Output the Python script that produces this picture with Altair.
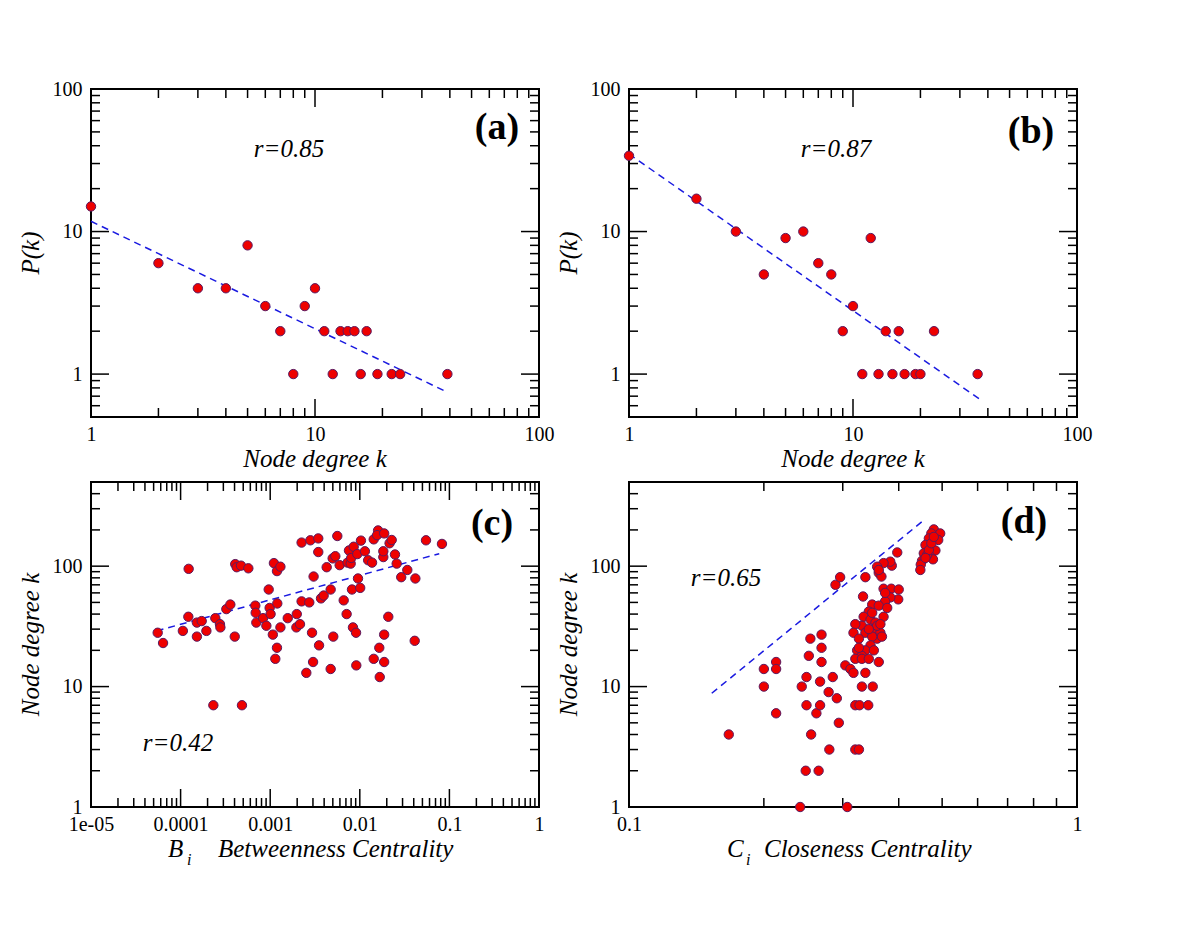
import altair as alt
import pandas as pd

# ---------------- data ----------------
# Panel (a)
a_k = [1, 2, 3, 4, 5, 6, 7, 8, 9, 10, 11, 12, 13, 14, 15, 16, 17, 19, 22, 24, 39]
a_p = [15, 6, 4, 4, 8, 3, 2, 1, 3, 4, 2, 1, 2, 2, 2, 1, 2, 1, 1, 1, 1]
a_fit_k = [1, 38.7]
a_fit_p = [11.8, 0.75]

# Panel (b)
b_k = [1, 2, 3, 4, 5, 6, 7, 8, 9, 10, 11, 12, 13, 14, 15, 16, 17, 19, 20, 23, 36]
b_p = [34, 17, 10, 5, 9, 10, 6, 5, 2, 3, 1, 9, 1, 2, 1, 2, 1, 1, 1, 2, 1]
b_fit_k = [1, 36.6]
b_fit_p = [35, 0.67]

# Panel (c)  betweenness centrality vs degree
c_b = [5.55e-5, 6.37e-5, 1.06e-4, 1.23e-4, 1.22e-4, 1.52e-4, 1.52e-4, 1.72e-4, 1.94e-4, 2.32e-4,
       2.44e-4, 2.75e-4, 2.78e-4, 3.24e-4, 3.59e-4, 4.02e-4, 4.07e-4, 4.23e-4, 4.72e-4, 4.84e-4,
       5.70e-4, 6.82e-4, 6.89e-4, 7.00e-4, 8.32e-4, 9.06e-4, 9.62e-4, 9.86e-4, 1.01e-3, 1.07e-3,
       1.10e-3, 1.19e-3, 1.30e-3, 1.20e-3, 1.19e-3, 1.14e-3, 1.30e-3, 1.57e-3, 1.98e-3, 1.96e-3,
       2.15e-3, 2.24e-3, 2.24e-3, 2.53e-3, 2.73e-3, 2.81e-3, 2.93e-3, 3.01e-3, 3.05e-3, 3.44e-3,
       3.44e-3, 3.51e-3, 3.69e-3, 3.95e-3, 4.27e-3, 4.73e-3, 4.73e-3, 4.98e-3, 5.06e-3, 5.33e-3,
       5.61e-3, 5.96e-3, 6.61e-3, 7.13e-3, 7.31e-3, 7.57e-3, 7.91e-3, 8.02e-3, 8.18e-3, 8.39e-3,
       8.55e-3, 9.08e-3, 9.14e-3, 9.38e-3, 9.55e-3, 1.01e-2, 1.03e-2, 1.14e-2, 1.24e-2, 1.37e-2,
       1.43e-2, 1.43e-2, 1.60e-2, 1.56e-2, 1.65e-2, 1.67e-2, 1.83e-2, 1.83e-2, 1.87e-2, 1.87e-2,
       1.87e-2, 2.08e-2, 2.15e-2, 2.27e-2, 2.47e-2, 2.58e-2, 2.90e-2, 3.39e-2, 4.10e-2, 4.17e-2,
       5.48e-2, 8.26e-2]
c_k = [28, 23, 29, 95, 38, 26, 34, 35, 29, 7,
       37, 33, 31, 44, 48, 26, 104, 98, 101, 7,
       96, 47, 41, 34, 37, 32, 64, 45, 40, 27,
       106, 91, 99, 49, 21, 17, 31, 37, 40, 31,
       33, 157, 51, 13, 50, 164, 28, 16, 82, 170,
       131, 22, 54, 57, 98, 64, 14, 116, 26, 121,
       178, 102, 52, 40, 107, 135, 105, 117, 64, 31,
       145, 28, 15, 126, 79, 66, 163, 133, 112, 107,
       17, 167, 198, 181, 21, 12, 119, 133, 187, 27,
       16, 38, 155, 165, 125, 105, 81, 93, 24, 79,
       164, 153]
c_fit_b = [5.4e-5, 0.077]
c_fit_k = [29, 127]

# Panel (d)  closeness centrality vs degree
d_c = [0.479, 0.473, 0.495, 0.467, 0.490, 0.459, 0.483, 0.455, 0.471, 0.477,
       0.451, 0.448, 0.447, 0.463, 0.467, 0.473, 0.459, 0.479,
       0.397, 0.386, 0.383, 0.370, 0.358, 0.361, 0.366, 0.337, 0.289, 0.296,
       0.370, 0.385, 0.400, 0.399, 0.383, 0.373, 0.333, 0.349, 0.361, 0.343,
       0.377, 0.370, 0.334, 0.346, 0.355, 0.352, 0.364, 0.358, 0.367, 0.331,
       0.320, 0.317, 0.337, 0.349, 0.326, 0.346, 0.337, 0.323, 0.331, 0.352,
       0.320, 0.331, 0.343, 0.361, 0.304, 0.312, 0.317, 0.337, 0.331, 0.350,
       0.320, 0.327, 0.342, 0.320, 0.326,
       0.349, 0.358, 0.343, 0.326, 0.364, 0.373, 0.361,
       0.167, 0.200, 0.200, 0.213, 0.213, 0.213, 0.243, 0.249, 0.249, 0.252,
       0.254, 0.255, 0.262, 0.267, 0.269, 0.269, 0.269, 0.267, 0.279, 0.280,
       0.285, 0.291, 0.294, 0.248, 0.265, 0.241, 0.307]
d_k = [202, 187, 187, 170, 165, 150, 135, 128, 120, 114,
       111, 103, 93, 124, 136, 155, 117, 175,
       130, 101, 109, 106, 99, 88, 82, 81, 70, 81,
       65, 65, 64, 53, 55, 51, 56, 48, 47, 42,
       45, 38, 38, 36, 34, 30, 28, 25, 26, 32,
       33, 28, 28, 26, 25, 22, 20, 20, 18, 20,
       17, 17, 17, 16, 15, 14, 13, 13, 10, 10,
       7, 7, 7, 3, 3,
       41, 32, 30, 21, 33, 60, 93,
       4, 14, 10, 16, 14, 6, 10, 12, 7, 18,
       25, 4, 6, 7, 27, 21, 16, 11, 9, 3,
       12, 8, 5, 2, 2, 1, 1]
d_fit_c = [0.153, 0.455]
d_fit_k = [8.8, 241]

# axis tick values and labels
ab_x_ticks = [1, 10, 100]
ab_x_labels = ["1", "10", "100"]
ab_y_ticks = [1, 10, 100]
ab_y_labels = ["1", "10", "100"]
c_x_ticks = [1e-5, 1e-4, 1e-3, 1e-2, 1e-1, 1]
c_x_labels = ["1e-05", "0.0001", "0.001", "0.01", "0.1", "1"]
cd_y_ticks = [1, 10, 100]
cd_y_labels = ["1", "10", "100"]
d_x_ticks = [0.1, 1]
d_x_labels = ["0.1", "1"]
minor_mult = [2, 3, 4, 5, 6, 7, 8, 9]

# ---------------- style ----------------
FONT = "Liberation Serif"
W = 448
H_TOP = 328
H_BOT = 325
FILL = "#ee0000"
EDGE = "#5a1a60"
LINE = "#1a1ae0"
MAJ, MIN = 18, 9
TSIZE = 25


def minors(decades, lo, hi):
    out = []
    for d in decades:
        for m in minor_mult:
            v = m * d
            if lo < v < hi:
                out.append(v)
    return out


def label_expr(vals, labels):
    expr = "''"
    for v, l in reversed(list(zip(vals, labels))):
        expr = f"abs(log(datum.value) - log({v})) < 0.02 ? '{l}' : ({expr})"
    return expr


def make_axis(vals, labels, pad):
    return alt.Axis(values=vals, labelExpr=label_expr(vals, labels), title=None,
                    ticks=False, tickSize=0, domain=False, grid=False,
                    labelFlush=False, labelPadding=pad, labelFont=FONT,
                    labelFontSize=20, labelColor="black", labelOverlap=False)


def text_layer(txt, x, y, size=TSIZE, style="italic", weight="normal", angle=0, align="center"):
    df = pd.DataFrame({"t": [txt]})
    kw = dict(font=FONT, fontSize=size, fontStyle=style, fontWeight=weight,
              align=align, baseline="middle", color="black")
    if angle:
        kw["angle"] = angle
    return alt.Chart(df).mark_text(**kw).encode(x=alt.value(x), y=alt.value(y), text="t:N")


def panel(px, py, fx, fy, xdom, ydom, xt, xl, yt, yl, xmajor, xminor, ymajor, yminor,
          H, rtext, rpos, lab, labpos, xtitle_layers, ytitle):
    xs = alt.Scale(type="log", domain=xdom, nice=False, zero=False)
    ys = alt.Scale(type="log", domain=ydom, nice=False, zero=False)
    xax = make_axis(xt, xl, 7)
    yax = make_axis(yt, yl, 9)
    X = alt.X("x:Q", scale=xs, axis=xax)
    Y = alt.Y("y:Q", scale=ys, axis=yax)

    layers = []
    # ticks (inward, on all four sides)
    for vals, L in [(xmajor, MAJ), (xminor, MIN)]:
        tdf = pd.DataFrame({"x": vals})
        base = alt.Chart(tdf).mark_rule(color="black", strokeWidth=1.5)
        layers.append(base.encode(x=X, y=alt.value(0), y2=alt.value(L)))
        layers.append(base.encode(x=X, y=alt.value(H), y2=alt.value(H - L)))
    for vals, L in [(ymajor, MAJ), (yminor, MIN)]:
        tdf = pd.DataFrame({"y": vals})
        base = alt.Chart(tdf).mark_rule(color="black", strokeWidth=1.5)
        layers.append(base.encode(y=Y, x=alt.value(0), x2=alt.value(L)))
        layers.append(base.encode(y=Y, x=alt.value(W), x2=alt.value(W - L)))

    fit = pd.DataFrame({"x": fx, "y": fy})
    layers.append(alt.Chart(fit).mark_line(color=LINE, strokeDash=[7, 5], strokeWidth=1.5)
                  .encode(x=X, y=Y))
    pts = pd.DataFrame({"x": px, "y": py})
    layers.append(alt.Chart(pts).mark_circle(fill=FILL, stroke=EDGE, strokeWidth=1,
                                             opacity=1, size=88).encode(x=X, y=Y))

    layers.append(text_layer(rtext, rpos[0], rpos[1]))
    layers.append(text_layer(lab, labpos[0], labpos[1], size=38, style="normal", weight="bold"))
    layers.extend(xtitle_layers)
    layers.append(text_layer(ytitle, -60, H / 2, angle=270))
    return alt.layer(*layers).properties(width=W, height=H)


dec_ab = [1, 10]
pa = panel(a_k, a_p, a_fit_k, a_fit_p, [1, 100], [0.5, 100],
           ab_x_ticks, ab_x_labels, ab_y_ticks, ab_y_labels,
           ab_x_ticks, minors(dec_ab, 1, 100), ab_y_ticks, minors([0.1, 1, 10], 0.5, 100),
           H_TOP, "r=0.85", (198, 60), "(a)", (406, 39),
           [text_layer("Node degree k", W / 2, H_TOP + 42)], "P(k)")

pb = panel(b_k, b_p, b_fit_k, b_fit_p, [1, 100], [0.5, 100],
           ab_x_ticks, ab_x_labels, ab_y_ticks, ab_y_labels,
           ab_x_ticks, minors(dec_ab, 1, 100), ab_y_ticks, minors([0.1, 1, 10], 0.5, 100),
           H_TOP, "r=0.87", (207, 60), "(b)", (402, 43),
           [text_layer("Node degree k", W / 2, H_TOP + 42)], "P(k)")

pc = panel(c_b, c_k, c_fit_b, c_fit_k, [1e-5, 1], [1, 500],
           c_x_ticks, c_x_labels, cd_y_ticks, cd_y_labels,
           c_x_ticks, minors([1e-5, 1e-4, 1e-3, 1e-2, 1e-1], 1e-5, 1),
           cd_y_ticks, minors([1, 10, 100], 1, 500),
           H_BOT, "r=0.42", (87, 261), "(c)", (401, 42),
           [text_layer("B", 77, H_BOT + 42, align="left"),
            text_layer("i", 96, H_BOT + 53, size=16, align="left"),
            text_layer("Betweenness Centrality", 127, H_BOT + 42, align="left")],
           "Node degree k")

pd_ = panel(d_c, d_k, d_fit_c, d_fit_k, [0.1, 1], [1, 500],
            d_x_ticks, d_x_labels, cd_y_ticks, cd_y_labels,
            d_x_ticks, minors([0.1], 0.1, 1),
            cd_y_ticks, minors([1, 10, 100], 1, 500),
            H_BOT, "r=0.65", (97, 96), "(d)", (395, 40),
            [text_layer("C", 98, H_BOT + 42, align="left"),
             text_layer("i", 117, H_BOT + 53, size=16, align="left"),
             text_layer("Closeness Centrality", 135, H_BOT + 42, align="left")],
            "Node degree k")

chart = alt.concat(pa, pb, pc, pd_, columns=2,
                   spacing={"row": 65, "column": 90}, bounds="flush").properties(
    padding={"left": 10, "top": 70, "right": 10, "bottom": 10},
    background="white",
).configure_view(stroke="black", strokeWidth=2)

chart.save("out.html", embed_options={"renderer": "svg", "actions": False})
